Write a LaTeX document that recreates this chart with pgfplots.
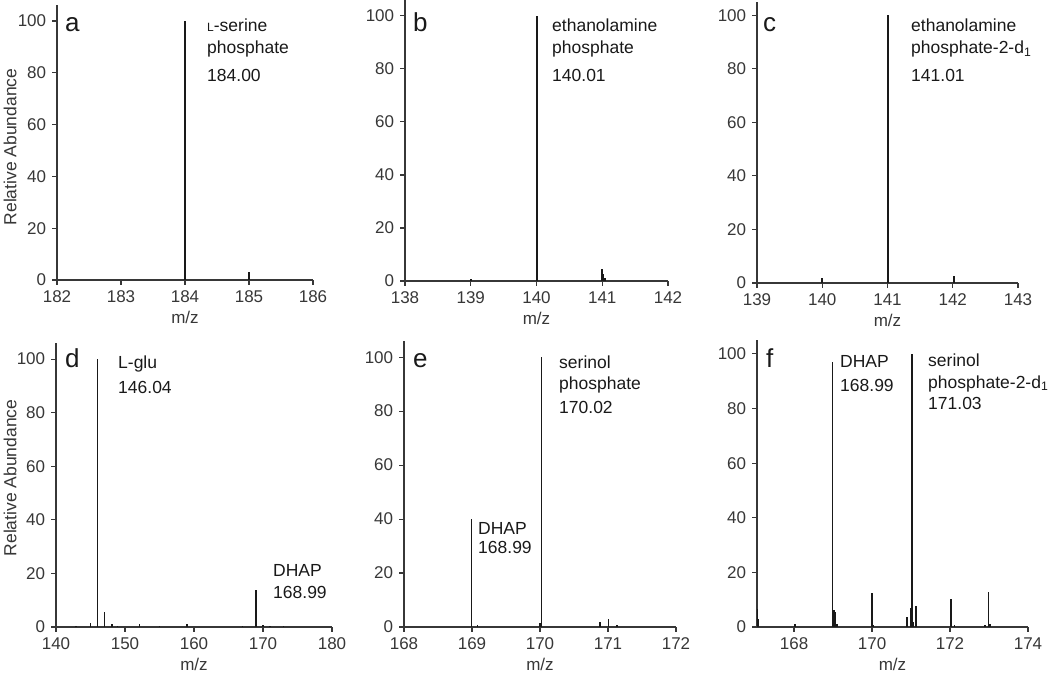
\documentclass[border=0pt]{standalone}
\usepackage{pgfplots}
\pgfplotsset{compat=1.18}
\usepackage{fontspec}
\setmainfont{Liberation Sans}
\definecolor{axc}{RGB}{55,55,55}
\definecolor{pkc}{RGB}{25,25,25}
\begin{document}
\fontsize{17}{20}\selectfont
\begin{tikzpicture}
\useasboundingbox (0pt,0pt) rectangle (1050pt,680pt);
\pgfplotsset{
  spec/.style={
    scale only axis,
    anchor=south west,
    axis lines=left,
    axis line style={-, line width=1.2pt, color=axc},
    tick align=outside,
    major tick length=5pt,
    tick style={line width=1.1pt, color=axc},
    ymin=0,
    ytick={0,20,40,60,80,100},
    xlabel={m/z},
    ticklabel style={font=\fontsize{17}{20}\selectfont, text=axc},
    label style={font=\fontsize{17}{20}\selectfont, text=axc},
    /pgf/number format/assume math mode=true,
    /pgf/number format/1000 sep={},
    xlabel style={yshift=3pt},
  },
  peak/.style={ycomb, line width=1.6pt, color=pkc, mark=none},
}
% ---------- a ----------
\begin{axis}[spec, at={(57pt,400pt)}, width=256pt, height=274.5pt, xmin=182, xmax=186, ymax=106,
  xtick={182,183,184,185,186}]
\addplot[peak] coordinates {(183.995,14) (184.00,100) (185.00,3)};
\end{axis}
% ---------- b ----------
\begin{axis}[spec, at={(405pt,399pt)}, width=263pt, height=281pt, xmin=138, xmax=142, ymax=106,
  xtick={138,139,140,141,142}]
\addplot[peak] coordinates {(139.00,0.7) (140.01,100) (141.00,4.5) (141.02,2.5) (141.04,1)};
\end{axis}
% ---------- c ----------
\begin{axis}[spec, at={(757pt,397pt)}, width=261pt, height=281pt, xmin=139, xmax=143, ymax=105,
  xtick={139,140,141,142,143}]
\addplot[peak] coordinates {(140.00,1.8) (141.01,100) (142.02,2.5)};
\end{axis}
% ---------- d ----------
\begin{axis}[spec, at={(56pt,53pt)}, width=276pt, height=284pt, xmin=140, xmax=180, ymax=106,
  xtick={140,150,160,170,180}]
\addplot[peak] coordinates {(142.9,0.5) (145.0,1.6) (146.04,100) (147.04,5.5) (148.1,1) (148.9,0.5) (152.1,1) (155,0.4) (159.0,1) (167.05,0.5) (168.99,13.8) (170.0,0.8) (171.0,0.5) (173.0,0.5)};
\end{axis}
% ---------- e ----------
\begin{axis}[spec, at={(404pt,53pt)}, width=272pt, height=286pt, xmin=168, xmax=172, ymax=106,
  xtick={168,169,170,171,172}]
\addplot[peak] coordinates {(168.99,40) (169.08,0.6) (170.0,1.5) (170.02,100) (170.88,2) (171.01,3) (171.13,0.8)};
\end{axis}
% ---------- f ----------
\begin{axis}[spec, at={(757pt,53pt)}, width=271pt, height=286.7pt, xmin=167.05, xmax=174, ymax=105,
  xtick={168,170,172,174}]
\addplot[peak] coordinates {(167.06,6.5) (167.08,3) (168.03,1) (168.99,97) (169.02,6.2) (169.05,5.5) (169.1,1) (170.0,12.4) (170.04,0.8) (170.89,3.6) (170.99,6.8) (171.03,100) (171.06,2) (171.13,7.7) (172.02,10.2) (172.12,0.8) (172.9,0.8) (172.99,13) (173.03,1.2)};
\end{axis}
% ---------- y labels ----------
\node[rotate=90, inner sep=0pt, text=axc, font=\fontsize{17.5}{20}\selectfont] at (10pt,533pt) {Relative Abundance};
\node[rotate=90, inner sep=0pt, text=axc, font=\fontsize{17.5}{20}\selectfont] at (10pt,202pt) {Relative Abundance};
% ---------- panel letters ----------
\begin{scope}[every node/.style={anchor=base west, inner sep=0pt, text=pkc, font=\fontsize{26}{30}\selectfont}]
\node at (65pt,648pt) {a};
\node at (413pt,648.3pt) {b};
\node at (763pt,648pt) {c};
\node at (65pt,312pt) {d};
\node at (413pt,312pt) {e};
\node at (766pt,312pt) {f};
\end{scope}
% ---------- annotations ----------
\begin{scope}[every node/.style={anchor=base west, inner sep=0pt, text=pkc, font=\fontsize{17.5}{20}\selectfont}]
\node at (207pt,648.3pt) {{\fontsize{12}{13}\selectfont L}-serine};
\node at (207pt,626.7pt) {phosphate};
\node at (207pt,598.3pt) {184.00};
\node at (552pt,648.3pt) {ethanolamine};
\node at (552pt,626.7pt) {phosphate};
\node at (552pt,598.3pt) {140.01};
\node at (911pt,648pt) {ethanolamine};
\node at (911pt,626pt) {phosphate-2-d\textsubscript{1}};
\node at (911pt,598pt) {141.01};
\node at (118pt,311.7pt) {L-glu};
\node at (118pt,286.7pt) {146.04};
\node at (273pt,103.3pt) {DHAP};
\node at (273pt,81.7pt) {168.99};
\node at (559pt,311.7pt) {serinol};
\node at (559pt,290.7pt) {phosphate};
\node at (559pt,266pt) {170.02};
\node at (478pt,145pt) {DHAP};
\node at (478pt,126.7pt) {168.99};
\node at (840pt,312.7pt) {DHAP};
\node at (840pt,288.3pt) {168.99};
\node at (928pt,313.3pt) {serinol};
\node at (928pt,291.7pt) {phosphate-2-d\textsubscript{1}};
\node at (928pt,270.7pt) {171.03};
\end{scope}
\end{tikzpicture}
\end{document}
